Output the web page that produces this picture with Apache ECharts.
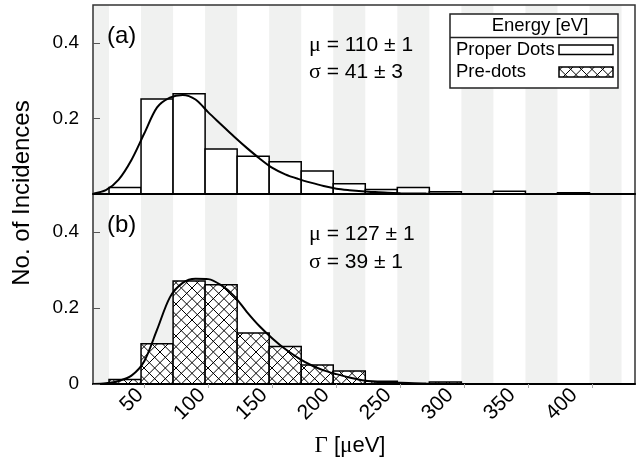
<!DOCTYPE html>
<html><head><meta charset="utf-8">
<script src="https://cdn.jsdelivr.net/npm/echarts@6.0.0/dist/echarts.min.js"></script>
<style>html,body{margin:0;padding:0;background:#fff}#c{width:643px;height:460px}</style>
</head><body><div id="c"></div>
<script>
// ---- data ----
const binStart = 22.5;
const binWidth = 25;
const properDots = [0.017, 0.251, 0.265, 0.119, 0.100, 0.085, 0.061, 0.027, 0.012, 0.017, 0.006, 0, 0.007, 0, 0.003, 0];
const preDots    = [0.012, 0.106, 0.271, 0.261, 0.134, 0.099, 0.050, 0.034, 0.007, 0, 0.005, 0, 0, 0, 0, 0];
const fitX  = [10, 20, 30, 40, 50, 60, 70, 80, 90, 100, 110, 120, 130, 140, 150, 160, 170, 180, 190, 200, 210, 220, 230, 240, 250, 270, 300, 350, 433];
const fitAy = [0.001, 0.010, 0.038, 0.090, 0.160, 0.229, 0.255, 0.262, 0.250, 0.216, 0.184, 0.152, 0.122, 0.094, 0.069, 0.052, 0.040, 0.030, 0.021, 0.014, 0.010, 0.007, 0.005, 0.003, 0.002, 0.001, 0.0003, 0, 0];
const fitBy = [0, 0.002, 0.008, 0.022, 0.060, 0.143, 0.228, 0.266, 0.277, 0.276, 0.260, 0.232, 0.190, 0.152, 0.120, 0.092, 0.069, 0.050, 0.036, 0.026, 0.017, 0.010, 0.006, 0.004, 0.003, 0.001, 0.0003, 0, 0];
const xTickValues = [50, 100, 150, 200, 250, 300, 350, 400];
const xTickLabels = [50, 100, 150, 200, 250, 300, 350, 400];
const yTicksTop = [0.2, 0.4];
const yTicksBottom = [0, 0.2, 0.4];
const xMin = 10, xMax = 433, yMax = 0.5;
// the printed tick labels of the original sit on a slightly tighter spacing than its data scale
const labelMin = 12, labelMax = 449;
const statsA = ['110 ± 1', '41 ± 3'];
const statsB = ['127 ± 1', '39 ± 1'];

// ---- helpers ----
function makeHatch() {
  const s = 32, c = document.createElement('canvas');
  c.width = s; c.height = s;
  const g = c.getContext('2d');
  g.fillStyle = '#fff'; g.fillRect(0, 0, s, s);
  g.strokeStyle = '#000'; g.lineWidth = 1;
  for (let k = -3; k <= 6; k++) {
    const a = k * s / 3;
    g.beginPath(); g.moveTo(a, 0); g.lineTo(a + s, s); g.stroke();
    g.beginPath(); g.moveTo(a, s); g.lineTo(a + s, 0); g.stroke();
  }
  return c;
}
const hatch = { image: makeHatch(), repeat: 'repeat' };

function bins(vals) {
  return vals.map((v, i) => [binStart + i * binWidth, binStart + (i + 1) * binWidth, v]);
}
const stripes = [];
for (let x = binStart - binWidth; x < xMax; x += 2 * binWidth) stripes.push([x, x + binWidth]);

function stripeItem(params, api) {
  const a = Math.max(api.value(0), xMin), b = Math.min(api.value(1), xMax);
  if (b <= a) return null;
  const p0 = api.coord([a, yMax]), p1 = api.coord([b, 0]);
  return { type: 'rect', shape: { x: p0[0], y: p0[1], width: p1[0] - p0[0], height: p1[1] - p0[1] },
    style: { fill: '#f0f1f0' } };
}
function histItem(fill) {
  return function (params, api) {
    const v = api.value(2);
    if (!(v > 0)) return null;
    const p0 = api.coord([api.value(0), v]), p1 = api.coord([api.value(1), 0]);
    return { type: 'rect', shape: { x: p0[0], y: p0[1], width: p1[0] - p0[0], height: p1[1] - p0[1] },
      style: { fill: fill, stroke: '#000', lineWidth: 1.5 } };
  };
}

const FONT = 'Liberation Sans';
const xAxisBase = {
  type: 'value', min: xMin, max: xMax, z: 20,
  splitLine: { show: false },
  axisLine: { show: true, onZero: false, lineStyle: { color: '#000', width: 2 } }
};
const yAxisBase = {
  type: 'value', min: 0, max: yMax, z: 20,
  splitLine: { show: false },
  axisLine: { show: false },
  axisTick: { show: true, inside: true, length: 7, lineStyle: { color: '#555', width: 1 } },
  axisLabel: { color: '#000', fontSize: 19, fontFamily: FONT, margin: 14 }
};
const lineSeries = (xi, ys) => ({
  type: 'line', xAxisIndex: xi, yAxisIndex: xi, z: 3, showSymbol: false, symbol: 'none', smooth: 0.3,
  lineStyle: { color: '#000', width: 2 }, data: fitX.map((x, i) => [x, ys[i]])
});

const option = {
  animation: false,
  backgroundColor: '#fff',
  grid: [
    { left: 93, top: 5, width: 542, height: 189, show: true, z: 10, borderColor: '#333', borderWidth: 1.5, backgroundColor: 'transparent' },
    { left: 93, top: 194, width: 542, height: 190, show: true, z: 10, borderColor: '#333', borderWidth: 1.5, backgroundColor: 'transparent' }
  ],
  xAxis: [
    Object.assign({}, xAxisBase, { gridIndex: 0, axisTick: { show: false }, axisLabel: { show: false } }),
    Object.assign({}, xAxisBase, { gridIndex: 1,
      axisTick: { show: true, length: 4, customValues: xTickValues, lineStyle: { color: '#aaa' } },
      axisLabel: { show: false } }),
    { type: 'value', gridIndex: 1, position: 'bottom', min: labelMin, max: labelMax, z: 20,
      splitLine: { show: false }, axisLine: { show: false, onZero: false }, axisTick: { show: false },
      axisLabel: { show: true, rotate: 45, margin: 8, customValues: xTickLabels, color: '#000', fontSize: 21, fontFamily: FONT } }
  ],
  yAxis: [
    Object.assign({}, yAxisBase, { gridIndex: 0,
      axisTick: Object.assign({}, yAxisBase.axisTick, { customValues: yTicksTop }),
      axisLabel: Object.assign({}, yAxisBase.axisLabel, { customValues: yTicksTop }) }),
    Object.assign({}, yAxisBase, { gridIndex: 1,
      axisTick: Object.assign({}, yAxisBase.axisTick, { customValues: yTicksBottom }),
      axisLabel: Object.assign({}, yAxisBase.axisLabel, { customValues: yTicksBottom }) })
  ],
  series: [
    { type: 'custom', xAxisIndex: 0, yAxisIndex: 0, z: 1, renderItem: stripeItem, data: stripes, silent: true },
    { type: 'custom', xAxisIndex: 1, yAxisIndex: 1, z: 1, renderItem: stripeItem, data: stripes, silent: true },
    { type: 'custom', name: 'Proper Dots', xAxisIndex: 0, yAxisIndex: 0, z: 2, renderItem: histItem('#fff'), data: bins(properDots) },
    { type: 'custom', name: 'Pre-dots', xAxisIndex: 1, yAxisIndex: 1, z: 2, renderItem: histItem(hatch), data: bins(preDots) },
    lineSeries(0, fitAy),
    lineSeries(1, fitBy)
  ],
  graphic: [
    { type: 'text', left: 107, top: 24, z: 50, style: { text: '(a)', font: '24px ' + FONT, fill: '#000' } },
    { type: 'text', left: 107, top: 213, z: 50, style: { text: '(b)', font: '24px ' + FONT, fill: '#000' } },
    { type: 'text', x: 309, y: 45, z: 50, style: { text: '{g|μ} = ' + statsA[0], verticalAlign: 'middle', font: '21px ' + FONT, fill: '#000', rich: { g: { fontFamily: 'Liberation Serif', fontSize: 22 } } } },
    { type: 'text', x: 309, y: 72, z: 50, style: { text: '{g|σ} = ' + statsA[1], verticalAlign: 'middle', font: '21px ' + FONT, fill: '#000', rich: { g: { fontFamily: 'Liberation Serif', fontSize: 22 } } } },
    { type: 'text', x: 309, y: 234, z: 50, style: { text: '{g|μ} = ' + statsB[0], verticalAlign: 'middle', font: '21px ' + FONT, fill: '#000', rich: { g: { fontFamily: 'Liberation Serif', fontSize: 22 } } } },
    { type: 'text', x: 309, y: 262, z: 50, style: { text: '{g|σ} = ' + statsB[1], verticalAlign: 'middle', font: '21px ' + FONT, fill: '#000', rich: { g: { fontFamily: 'Liberation Serif', fontSize: 22 } } } },
    // legend
    { type: 'rect', z: 50, shape: { x: 450, y: 14, width: 168, height: 74 }, style: { fill: '#fff', stroke: '#222', lineWidth: 1.5 } },
    { type: 'line', z: 51, shape: { x1: 450, y1: 37.5, x2: 618, y2: 37.5 }, style: { stroke: '#222', lineWidth: 1.5 } },
    { type: 'text', z: 51, x: 540, y: 26, style: { text: 'Energy [eV]', align: 'center', verticalAlign: 'middle', font: '18.5px ' + FONT, fill: '#000' } },
    { type: 'text', z: 51, x: 456, y: 50, style: { text: 'Proper Dots', verticalAlign: 'middle', font: '18.5px ' + FONT, fill: '#000' } },
    { type: 'text', z: 51, x: 456, y: 72, style: { text: 'Pre-dots', verticalAlign: 'middle', font: '18.5px ' + FONT, fill: '#000' } },
    { type: 'rect', z: 51, shape: { x: 559, y: 45, width: 54, height: 9.5 }, style: { fill: '#fff', stroke: '#000', lineWidth: 1.5 } },
    { type: 'rect', z: 51, shape: { x: 559, y: 67, width: 54, height: 10 }, style: { fill: hatch, stroke: '#000', lineWidth: 1.5 } },
    // axis titles
    { type: 'text', z: 50, x: 22, y: 193, rotation: Math.PI / 2, style: { text: 'No. of Incidences', align: 'center', verticalAlign: 'middle', font: '24px ' + FONT, fill: '#000' } },
    { type: 'text', z: 50, x: 350, y: 446, style: { text: '{g|Γ} [{g|μ}eV]', align: 'center', verticalAlign: 'middle', font: '22px ' + FONT, fill: '#000', rich: { g: { fontFamily: 'Liberation Serif', fontSize: 23 } } } }
  ]
};
const chart = echarts.init(document.getElementById('c'), null, { renderer: 'canvas' });
chart.setOption(option);
</script>
</body></html>
